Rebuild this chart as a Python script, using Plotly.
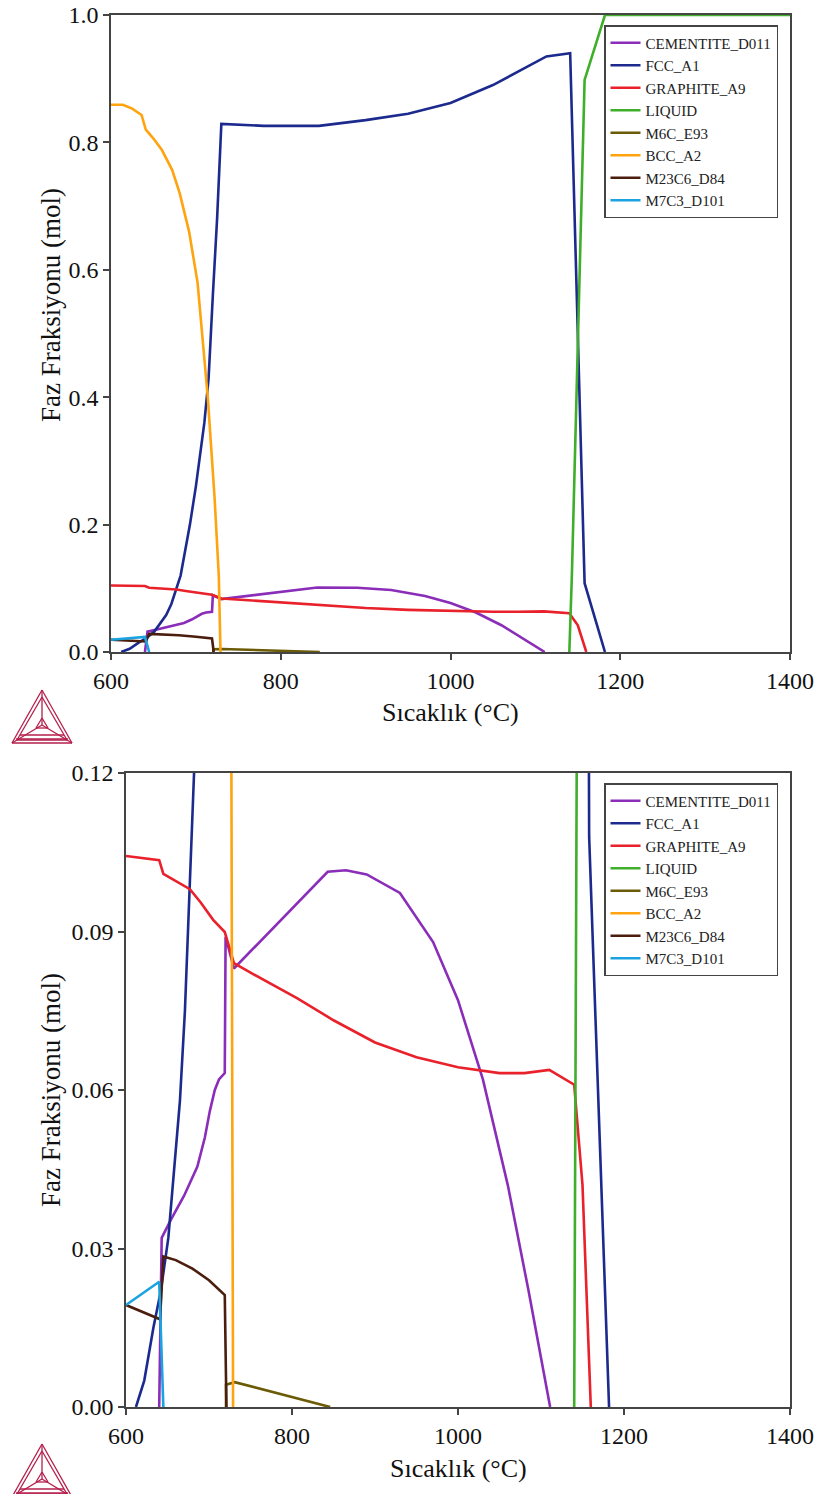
import plotly.graph_objects as go

W, H = 819, 1494

# ---------------- data (temperature °C, phase fraction mol) ----------------
cem_T = [640, 643, 654, 670, 686, 695, 701, 707, 712, 719, 720, 730, 843, 865, 890, 930, 970, 1000, 1030, 1060, 1085, 1111]
cem_f = [0.0, 0.032, 0.0354, 0.040, 0.0455, 0.051, 0.056, 0.060, 0.062, 0.0632, 0.089, 0.083, 0.1013, 0.1016, 0.1008, 0.0973, 0.088, 0.077, 0.062, 0.042, 0.022, 0.0]

fcc_T = [612, 622, 633, 642, 651, 658, 665, 671, 677, 682, 693, 700, 710, 715, 720, 725, 730, 780, 845, 900, 950, 1000, 1050, 1113, 1141, 1145, 1150, 1155, 1158, 1182]
fcc_f = [0.0, 0.005, 0.015, 0.022, 0.032, 0.045, 0.058, 0.075, 0.098, 0.12, 0.2, 0.26, 0.36, 0.43, 0.56, 0.68, 0.829, 0.826, 0.826, 0.835, 0.845, 0.862, 0.89, 0.935, 0.94, 0.75, 0.5, 0.25, 0.108, 0.0]

gra_T = [600, 640, 645, 660, 677, 690, 705, 719, 730, 749, 806, 850, 900, 950, 1000, 1050, 1080, 1110, 1140, 1150, 1160]
gra_f = [0.1043, 0.1035, 0.1009, 0.0995, 0.098, 0.0955, 0.0922, 0.0899, 0.084, 0.0823, 0.0774, 0.0732, 0.069, 0.0662, 0.0643, 0.0632, 0.0632, 0.0638, 0.061, 0.042, 0.0]

liq_T = [1140, 1143, 1158, 1182, 1400]
liq_f = [0.0, 0.12, 0.898, 1.0, 1.0]

m6c_T = [720.5, 720.5, 731, 846]
m6c_f = [0.0, 0.0042, 0.0047, 0.0]

bcc_T = [600, 614, 625, 636, 641, 650, 660, 672, 681, 692, 702, 714, 722, 727, 729]
bcc_f = [0.859, 0.859, 0.853, 0.843, 0.82, 0.806, 0.788, 0.757, 0.72, 0.66, 0.58, 0.40, 0.243, 0.12, 0.0]

m23_T = [600, 641, 645, 660, 680, 700, 719, 721]
m23_f = [0.0193, 0.0166, 0.0285, 0.0278, 0.0262, 0.0240, 0.0212, 0.0]

m7_T = [600, 640, 645]
m7_f = [0.0193, 0.0237, 0.0]

phases = [
    ("CEMENTITE_D011", cem_T, cem_f, "#8a2db8"),
    ("FCC_A1", fcc_T, fcc_f, "#1c2a8e"),
    ("GRAPHITE_A9", gra_T, gra_f, "#e8212b"),
    ("LIQUID", liq_T, liq_f, "#3fae2a"),
    ("M6C_E93", m6c_T, m6c_f, "#6b5a06"),
    ("BCC_A2", bcc_T, bcc_f, "#ffa30f"),
    ("M23C6_D84", m23_T, m23_f, "#4a1d0c"),
    ("M7C3_D101", m7_T, m7_f, "#1aa3e0"),
]

x_ticks = [600, 800, 1000, 1200, 1400]
top_y_ticks = [0.0, 0.2, 0.4, 0.6, 0.8, 1.0]
bot_y_ticks = [0.0, 0.03, 0.06, 0.09, 0.12]
x_title = "Sıcaklık (°C)"
y_title = "Faz Fraksiyonu (mol)"

SERIF = "Liberation Serif"

def px(x):
    return x / W

def py(y):
    return 1 - y / H

fig = go.Figure()
for name, T, f, col in phases:
    fig.add_trace(go.Scatter(x=T, y=f, mode="lines", name=name,
                             line=dict(color=col, width=2.6),
                             xaxis="x", yaxis="y", legend="legend",
                             legendgroup=name + "1"))
for name, T, f, col in phases:
    fig.add_trace(go.Scatter(x=T, y=f, mode="lines", name=name,
                             line=dict(color=col, width=2.6),
                             xaxis="x2", yaxis="y2", legend="legend2",
                             legendgroup=name + "2"))

axis_common = dict(showline=True, mirror=True, linecolor="#444", linewidth=1.5,
                   ticks="outside", ticklen=6, tickcolor="#444", tickwidth=1.5,
                   showgrid=False, zeroline=False, automargin=False,
                   tickfont=dict(family=SERIF, size=24, color="#111"))

legend_common = dict(bgcolor="white", bordercolor="#444", borderwidth=1.5,
                     font=dict(family=SERIF, size=15, color="#222"),
                     tracegroupgap=0, xanchor="left", yanchor="top",
                     itemwidth=30)

fig.update_layout(
    width=W, height=H,
    margin=dict(l=0, r=0, t=0, b=0),
    paper_bgcolor="white", plot_bgcolor="white",
    showlegend=True,
    xaxis=dict(domain=[px(111), px(790)], range=[600, 1400], tickvals=x_ticks,
               anchor="y", **axis_common),
    yaxis=dict(domain=[py(652), py(15)], range=[0, 1.0], tickvals=top_y_ticks,
               tickformat=".1f", anchor="x", **axis_common),
    xaxis2=dict(domain=[px(126), px(790)], range=[600, 1400], tickvals=x_ticks,
                anchor="y2", **axis_common),
    yaxis2=dict(domain=[py(1407), py(773)], range=[0, 0.12], tickvals=bot_y_ticks,
                tickformat=".2f", anchor="x2", **axis_common),
    legend=dict(x=px(604), y=py(25), **legend_common),
    legend2=dict(x=px(604), y=py(783), **legend_common),
)

# axis titles as annotations
TF = dict(family=SERIF, size=26, color="#111")
YF = dict(family=SERIF, size=27, color="#111")
common_ann = dict(xref="paper", yref="paper", showarrow=False,
                  xanchor="center", yanchor="middle")
ann = [
    dict(text=x_title, x=px(450), y=py(713), font=TF, **common_ann),
    dict(text=x_title, x=px(458), y=py(1468), font=TF, **common_ann),
    dict(text=y_title, x=px(51), y=py(305), textangle=-90, font=YF, **common_ann),
    dict(text=y_title, x=px(51), y=py(1090), textangle=-90, font=YF, **common_ann),
]
fig.update_layout(annotations=ann)

# Thermo-Calc style logo (decoration)
LOGO = "#b51f4c"
def logo(dy):
    A = (42, 690 + dy); B = (12, 743 + dy); C = (72, 743 + dy)
    O = (42, 725 + dy)
    A2 = (42, 697 + dy); B2 = (17, 740 + dy); C2 = (67, 740 + dy)
    segs = [(A, B), (B, C), (C, A), (A2, B2), (B2, C2), (C2, A2),
            (A, O), (B, O), (C, O),
            ((36, 728 + dy), (48, 728 + dy)), ((36, 728 + dy), (42, 718 + dy)), ((48, 728 + dy), (42, 718 + dy)),
            ((20, 735 + dy), (64, 735 + dy)), ((16, 739 + dy), (68, 739 + dy))]
    out = []
    for p, q in segs:
        out.append(dict(type="line", xref="paper", yref="paper",
                        x0=px(p[0]), y0=py(p[1]), x1=px(q[0]), y1=py(q[1]),
                        line=dict(color=LOGO, width=1.3)))
    return out

fig.update_layout(shapes=logo(0) + logo(754))

fig.write_html("out.html")
